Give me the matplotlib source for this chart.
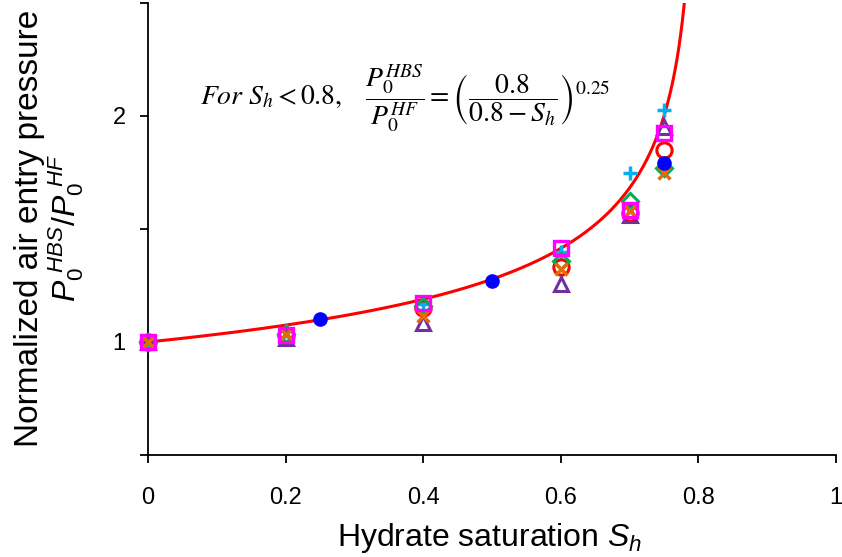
import numpy as np
import matplotlib
matplotlib.use("Agg")
import matplotlib.pyplot as plt
from matplotlib.ticker import FixedLocator, FixedFormatter

plt.rcParams['font.family'] = ['Liberation Sans', 'DejaVu Sans']
plt.rcParams['mathtext.fontset'] = 'custom'
plt.rcParams['mathtext.rm'] = 'Liberation Sans'
plt.rcParams['mathtext.it'] = 'Liberation Sans:italic'
plt.rcParams['mathtext.bf'] = 'Liberation Sans:bold'

# Hydrate saturation levels and normalized air-entry pressure per data set
sh_blue = [0.25, 0.5, 0.75]
p_blue = [1.102, 1.268, 1.79]

sh_sets = [0.0, 0.2, 0.4, 0.6, 0.7, 0.75]
p_cyan = [1.0, 1.049, 1.169, 1.40, 1.747, 2.027]
p_purple = [1.0, 1.018, 1.084, 1.258, 1.564, 1.951]
p_magenta = [1.0, 1.031, 1.171, 1.416, 1.582, 1.926]
p_green = [1.0, 1.035, 1.16, 1.36, 1.624, 1.769]
p_orange = [1.0, 1.036, 1.116, 1.324, 1.579, 1.747]
p_red = [1.0, 1.03, 1.15, 1.33, 1.569, 1.849]

# Model parameters
sh_star = 0.8
exponent = 0.25

fig = plt.figure(figsize=(8.42, 5.57), dpi=100)
ax = fig.add_axes([148 / 842, 1 - 455 / 557, 688 / 842, 452 / 557])

sh_curve = np.linspace(0, 0.7999, 4000)
ax.plot(sh_curve, (sh_star / (sh_star - sh_curve)) ** exponent,
        color='#FF0000', lw=2.2, zorder=2)

kw = dict(linestyle='none', clip_on=False)
ax.plot(sh_sets, p_cyan, '+', ms=10.5, mec='#00B0F0', mew=2.5, zorder=3, **kw)
ax.plot(sh_sets, p_red, 'o', ms=11, mfc='none', mec='#FF0000', mew=2.2, zorder=3, **kw)
ax.plot(sh_sets, p_purple, '^', ms=10, mfc='none', mec='#7030A0', mew=2.2, zorder=3, **kw)
ax.plot(sh_sets, p_green, 'D', ms=8, mfc='none', mec='#00B050', mew=2.2, zorder=3, **kw)
ax.plot(sh_sets, p_orange, 'x', ms=8, mec='#E36C09', mew=2.5, zorder=4, **kw)
ax.plot(sh_blue, p_blue, 'o', ms=9.5, mfc='#0000FF', mec='#0000FF', zorder=4, **kw)
ax.plot(sh_sets, p_magenta, 's', ms=9.5, mfc='none', mec='#FF00FF', mew=2.4, zorder=5, **kw)

ax.set_xlim(0, 1)
ax.set_ylim(0.5, 2.5)
ax.set_xticks([0, 0.2, 0.4, 0.6, 0.8, 1])
ax.set_xticklabels(['0', '0.2', '0.4', '0.6', '0.8', '1'])
ax.yaxis.set_major_locator(FixedLocator([0.5, 1.0, 1.5, 2.0, 2.5]))
ax.yaxis.set_major_formatter(FixedFormatter(['', '1', '', '2', '']))

for s in ['top', 'right']:
    ax.spines[s].set_visible(False)
for s in ['left', 'bottom']:
    ax.spines[s].set_linewidth(1.3)
ax.tick_params(direction='out', length=6, width=1.3, labelsize=17)
ax.tick_params(axis='x', pad=17)
ax.tick_params(axis='y', pad=10)

fig.text(490 / 842, 1 - 538 / 557, r'Hydrate saturation $S_h$',
         fontsize=23, ha='center', va='center')
fig.text(30 / 842, 1 - 228 / 557, 'Normalized air entry pressure', rotation=90,
         fontsize=24, ha='center', va='center')
fig.text(66 / 842, 1 - 228 / 557, r'$P_0^{\ HBS}/P_0^{\ HF}$',
         rotation=90, fontsize=23, ha='center', va='center')

ax.text(0.0756, 2.078,
        r'$\mathit{For}\ S_h < 0.8,\quad \dfrac{P_0^{HBS}}{P_0^{HF}} = \left(\dfrac{0.8}{0.8-S_h}\right)^{0.25}$',
        fontsize=20, ha='left', va='center', math_fontfamily='stix')

fig.savefig('out.png', dpi=100)
